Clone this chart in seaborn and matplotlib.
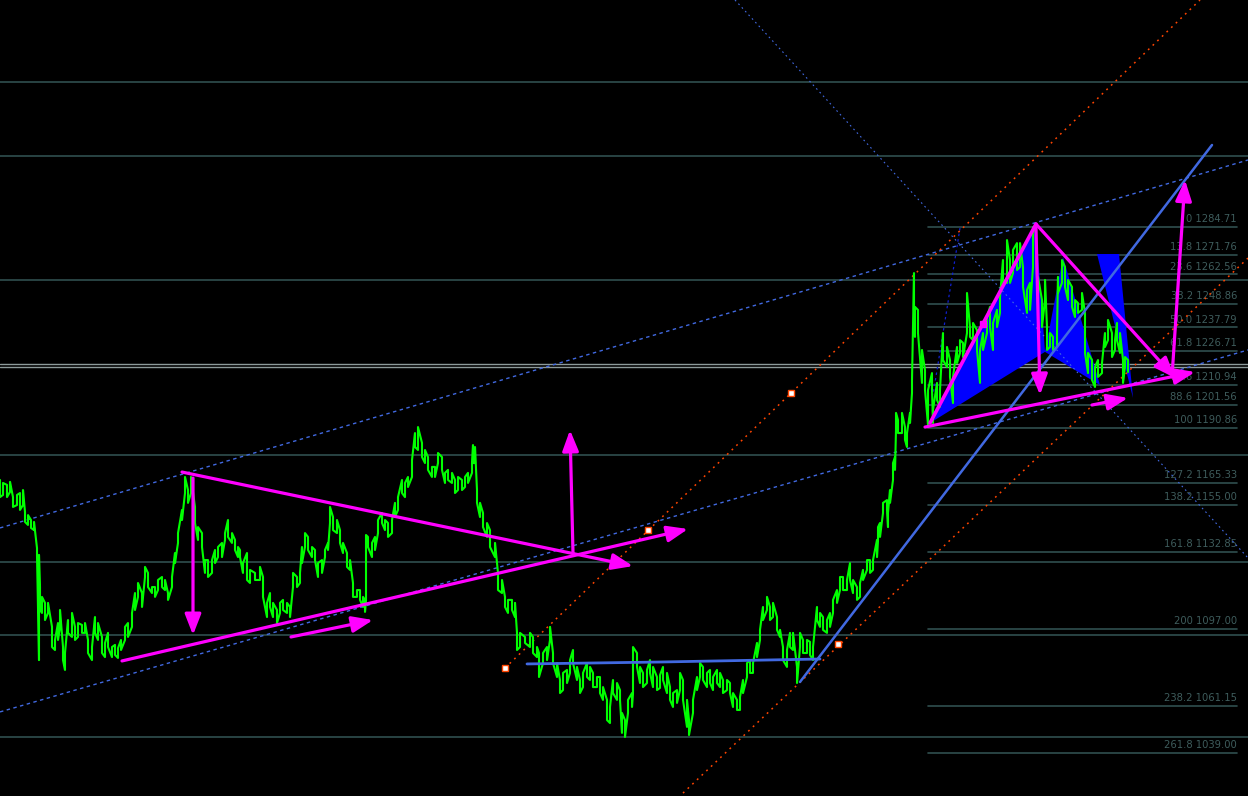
import matplotlib
matplotlib.use("Agg")
import matplotlib.pyplot as plt
import pandas as pd
import seaborn as sns

# price path (column highs / lows)
tick_time = [
    0, 3, 7, 10, 13, 17, 20, 23, 25, 28, 31, 34, 37, 39, 40, 42, 45, 48, 52, 55,
    58, 60, 63, 65, 68, 72, 75, 78, 82, 85, 88, 92, 95, 98, 102, 105, 108, 112, 115, 118,
    121, 125, 128, 132, 135, 138, 142, 145, 148, 152, 155, 158, 162, 165, 168, 172, 175, 178, 182, 185,
    188, 191, 195, 198, 202, 205, 208, 212, 215, 218, 222, 225, 228, 232, 235, 238,
    240, 243, 247, 250, 255, 260, 263, 267, 270, 273, 277, 280, 283, 287, 290, 293, 297, 300, 302, 305,
    308, 312, 315, 318, 322, 325, 328, 330, 333, 337, 340, 343, 347, 350, 353, 357, 360, 363, 365, 366,
    368, 372, 375, 378, 382, 385, 388, 392, 395, 398, 402, 405, 408, 412, 415, 418, 422, 425, 428, 432,
    435, 438, 442, 445, 448, 452, 455, 458, 462, 465, 468, 472, 473, 475, 477, 480, 483, 487, 490,
    495, 498, 502, 505, 508, 512, 515, 517, 520, 525, 530, 533, 537, 539, 543, 547, 550, 553, 557, 560,
    563, 567, 570, 573, 577, 580, 583, 587, 590, 593, 597, 600, 603, 607, 610, 613, 617, 620, 622, 625,
    628, 632, 633, 637, 640, 643, 647, 650, 653, 657, 660, 663, 667, 670, 673, 677, 680, 683, 687, 689,
    693, 697, 700, 703, 707, 710, 713, 717, 720, 723, 727, 730, 733, 737, 740, 743, 747, 750, 753, 757,
    760, 763, 767, 770, 773, 777, 780, 783, 787, 790, 793, 797, 800, 803, 807, 810, 813, 817, 820, 823,
    827, 830, 833, 837, 840, 843, 847,
    850, 853, 857, 860, 863, 867, 870, 873, 877, 878, 880, 883, 887, 888, 890, 893, 895, 896, 898, 902,
    905, 907, 910, 912, 914, 915, 918, 922, 925, 928, 932, 933, 937, 940, 943, 947, 950, 953, 957, 960,
    963, 967, 970, 973, 977, 980, 983, 987, 990, 993, 997, 1000, 1003, 1007, 1010, 1013, 1017, 1020, 1023, 1027,
    1030, 1033, 1036, 1038, 1042, 1045, 1047, 1050, 1053, 1057, 1058, 1062, 1065, 1068, 1072, 1075, 1078, 1082, 1085, 1088,
    1092, 1095, 1098, 1102, 1105, 1108, 1112, 1115, 1117, 1120, 1123, 1125, 1128,
]
tick_high = [
    1166.6, 1165.2, 1164.3, 1165.7, 1158.6, 1159.6, 1160.5, 1161.9, 1151.6, 1150.2, 1147.9, 1147.0, 1134.8, 1131.6, 1116.6, 1112.0, 1109.2, 1109.2, 1098.0, 1091.9,
    1099.8, 1105.9, 1088.6, 1085.8, 1101.2, 1104.5, 1098.0, 1099.8, 1098.9, 1099.8, 1091.9, 1088.6, 1102.6, 1099.8, 1093.3, 1090.5, 1095.2, 1088.6, 1089.6, 1088.1,
    1091.9, 1098.0, 1099.8, 1104.5, 1113.8, 1118.5, 1113.8, 1126.0, 1123.2, 1116.6, 1116.6, 1119.9, 1121.3, 1119.9, 1113.8, 1121.3, 1132.5, 1141.8, 1152.6, 1168.0,
    1161.9, 1168.0, 1154.0, 1144.6, 1141.8, 1129.2, 1129.2, 1129.2, 1133.9, 1135.3, 1137.2, 1141.8, 1147.9, 1141.8, 1138.6, 1135.3,
    1133.9, 1127.8, 1132.5, 1124.6, 1123.2, 1126.0, 1121.3, 1109.2, 1113.8, 1109.2, 1105.9, 1109.2, 1110.6, 1109.2, 1107.3, 1123.2, 1121.3, 1123.2, 1135.3, 1141.8,
    1140.0, 1135.3, 1133.9, 1127.8, 1129.2, 1133.9, 1137.2, 1154.0, 1149.3, 1147.9, 1143.2, 1137.2, 1132.5, 1129.2, 1118.5, 1115.2, 1115.2, 1112.0, 1110.6, 1140.9,
    1140.0, 1137.2, 1140.0, 1147.9, 1151.2, 1147.9, 1146.5, 1147.9, 1155.9, 1158.6, 1166.6, 1165.2, 1168.0, 1175.9, 1188.5, 1191.3, 1183.9, 1180.6, 1177.3, 1172.7,
    1172.7, 1179.2, 1177.3, 1169.9, 1171.3, 1169.9, 1166.6, 1168.0, 1166.6, 1168.0, 1169.9, 1174.5, 1182.9, 1182.0, 1161.9, 1155.9, 1151.2, 1146.5, 1143.2,
    1137.2, 1123.2, 1119.9, 1112.0, 1110.6, 1110.6, 1109.2, 1095.2, 1095.2, 1093.3, 1095.2, 1093.3, 1088.6, 1085.8, 1085.8, 1088.6, 1098.0, 1085.8, 1081.1, 1073.2,
    1076.5, 1077.9, 1082.5, 1087.2, 1079.3, 1073.2, 1076.5, 1081.1, 1079.3, 1076.5, 1074.6, 1074.6, 1069.9, 1063.9, 1060.6, 1073.2, 1071.8, 1068.5, 1057.8, 1054.5,
    1063.9, 1067.1, 1088.6, 1085.8, 1079.3, 1076.5, 1077.9, 1082.5, 1079.3, 1074.6, 1075.5, 1079.3, 1076.5, 1069.9, 1067.1, 1068.5, 1076.5, 1073.2, 1063.9, 1054.5,
    1063.9, 1074.6, 1081.1, 1079.3, 1076.5, 1077.9, 1074.6, 1077.9, 1076.5, 1073.2, 1073.2, 1071.8, 1067.1, 1063.9, 1065.3, 1073.2, 1081.1, 1082.5, 1081.1, 1090.5,
    1096.6, 1107.3, 1112.0, 1107.3, 1109.2, 1102.6, 1096.6, 1088.6, 1087.2, 1095.2, 1095.2, 1079.3, 1095.2, 1091.9, 1091.9, 1091.0, 1088.6, 1107.3, 1104.5, 1102.6,
    1101.2, 1104.5, 1110.6, 1115.2, 1121.3, 1121.3, 1119.9,
    1127.8, 1119.9, 1116.6, 1118.5, 1124.6, 1129.2, 1129.2, 1129.2, 1138.6, 1144.6, 1146.5, 1155.9, 1157.2, 1151.2, 1161.9, 1174.5, 1177.3, 1197.9, 1194.6, 1197.9,
    1191.3, 1188.5, 1197.9, 1213.3, 1263.2, 1247.4, 1246.0, 1227.3, 1217.9, 1208.6, 1216.5, 1199.3, 1211.9, 1208.6, 1235.2, 1228.7, 1222.6, 1214.7, 1228.7, 1231.9,
    1230.6, 1253.9, 1238.0, 1239.9, 1236.6, 1227.3, 1235.2, 1242.7, 1247.4, 1239.9, 1246.0, 1252.0, 1269.3, 1278.6, 1269.3, 1274.0, 1277.2, 1277.2, 1266.0, 1255.3,
    1258.6, 1284.7, 1281.9, 1261.4, 1250.6, 1260.0, 1238.0, 1235.2, 1233.4, 1235.2, 1261.4, 1269.3, 1266.0, 1260.0, 1256.7, 1250.6, 1249.2, 1253.9, 1244.6, 1225.9,
    1222.6, 1219.3, 1222.6, 1221.2, 1235.2, 1241.3, 1235.2, 1231.9, 1239.9, 1235.2, 1222.6, 1224.0, 1222.6,
]
tick_low = [
    1158.6, 1159.6, 1158.6, 1161.0, 1154.0, 1154.9, 1152.6, 1154.9, 1147.0, 1145.6, 1144.2, 1143.2, 1131.6, 1082.5, 1105.9, 1104.5, 1101.2, 1104.5, 1088.6, 1087.2,
    1091.9, 1098.0, 1082.5, 1077.9, 1095.2, 1093.3, 1091.9, 1093.3, 1095.2, 1095.2, 1085.8, 1082.5, 1095.2, 1091.9, 1085.8, 1083.9, 1088.6, 1083.9, 1084.9, 1083.5,
    1087.2, 1091.9, 1093.3, 1098.0, 1105.9, 1112.0, 1107.3, 1121.3, 1116.6, 1113.8, 1112.0, 1115.2, 1116.6, 1115.2, 1110.6, 1116.6, 1127.8, 1137.2, 1147.9, 1160.5,
    1155.9, 1160.5, 1146.5, 1138.6, 1135.3, 1123.2, 1121.3, 1123.2, 1127.8, 1130.6, 1130.6, 1138.6, 1140.0, 1137.2, 1133.9, 1130.6,
    1130.6, 1123.2, 1119.9, 1118.5, 1119.9, 1119.9, 1112.0, 1102.6, 1107.3, 1102.6, 1099.8, 1104.5, 1105.9, 1104.5, 1102.6, 1116.6, 1116.6, 1118.5, 1127.8, 1135.3,
    1133.9, 1130.6, 1129.2, 1121.3, 1123.2, 1130.6, 1133.9, 1146.5, 1143.2, 1141.8, 1137.2, 1132.5, 1126.0, 1124.6, 1112.0, 1112.0, 1110.6, 1107.3, 1105.0, 1110.6,
    1135.3, 1130.6, 1133.9, 1141.8, 1146.5, 1143.2, 1140.0, 1141.8, 1149.3, 1152.6, 1160.5, 1158.6, 1163.3, 1168.0, 1182.0, 1180.6, 1177.3, 1174.5, 1171.3, 1168.0,
    1168.0, 1174.5, 1171.3, 1165.2, 1166.6, 1165.2, 1160.5, 1161.9, 1161.9, 1163.3, 1165.2, 1169.9, 1174.5, 1174.5, 1155.9, 1149.3, 1144.6, 1140.0, 1135.3,
    1130.6, 1115.2, 1113.8, 1107.3, 1104.5, 1105.9, 1102.6, 1087.2, 1088.6, 1090.5, 1088.6, 1085.8, 1083.9, 1074.6, 1081.1, 1082.5, 1091.9, 1081.1, 1074.6, 1067.1,
    1068.5, 1071.8, 1076.5, 1081.1, 1073.2, 1067.1, 1069.9, 1074.6, 1073.2, 1069.9, 1069.9, 1067.1, 1063.9, 1054.5, 1053.1, 1067.1, 1063.9, 1063.9, 1048.5, 1046.6,
    1057.8, 1060.6, 1067.1, 1079.3, 1071.8, 1069.9, 1071.8, 1076.5, 1069.9, 1068.5, 1069.5, 1073.2, 1067.1, 1063.9, 1060.6, 1062.5, 1068.5, 1063.9, 1051.3, 1047.5,
    1057.8, 1068.5, 1074.6, 1073.2, 1069.9, 1071.8, 1068.5, 1071.8, 1069.9, 1067.1, 1068.5, 1067.1, 1060.6, 1059.2, 1059.2, 1067.1, 1074.6, 1076.5, 1076.5, 1083.9,
    1091.9, 1101.2, 1105.9, 1101.2, 1102.6, 1096.6, 1093.3, 1082.5, 1079.3, 1088.6, 1087.2, 1071.8, 1088.6, 1085.8, 1085.8, 1084.9, 1082.5, 1101.2, 1098.0, 1096.6,
    1095.2, 1098.0, 1104.5, 1109.2, 1115.2, 1115.2, 1115.2,
    1119.9, 1113.8, 1110.6, 1112.0, 1119.9, 1124.6, 1123.2, 1124.6, 1130.6, 1138.6, 1140.0, 1151.2, 1152.6, 1144.6, 1155.9, 1166.6, 1171.3, 1189.9, 1188.5, 1188.5,
    1185.3, 1182.0, 1193.2, 1207.2, 1246.0, 1233.4, 1235.2, 1211.9, 1208.6, 1192.3, 1208.6, 1193.2, 1203.9, 1200.7, 1222.6, 1219.3, 1214.7, 1202.5, 1221.2, 1225.9,
    1224.0, 1235.2, 1233.4, 1231.9, 1227.3, 1211.9, 1227.3, 1235.2, 1238.0, 1227.3, 1238.0, 1244.6, 1258.6, 1258.6, 1258.6, 1263.2, 1264.6, 1266.0, 1256.7, 1244.6,
    1246.0, 1266.0, 1270.7, 1250.6, 1238.0, 1250.6, 1227.3, 1228.7, 1227.3, 1228.7, 1253.9, 1258.6, 1256.7, 1250.6, 1247.4, 1242.7, 1244.6, 1246.0, 1225.9, 1216.5,
    1213.3, 1210.0, 1214.7, 1216.5, 1228.7, 1231.9, 1224.0, 1227.3, 1231.9, 1225.9, 1211.9, 1219.3, 1217.0,
]

# fibonacci levels
fib_pct = ["0", "13.8", "23.6", "38.2", "50.0", "61.8", "78.6", "88.6", "100",
           "127.2", "138.2", "161.8", "200", "238.2", "261.8"]
fib_price = [1284.71, 1271.76, 1262.56, 1248.86, 1237.79, 1226.71, 1210.94, 1201.56, 1190.86,
             1165.33, 1155.00, 1132.85, 1097.00, 1061.15, 1039.00]
fib_span = (928, 1237)

# full width horizontal levels
levels = [1352.4, 1317.9, 1260.0, 1178.3, 1128.3, 1094.2, 1046.6]
levels_light = [1220.7, 1219.3]

# trend lines (time, price)
channel_top = [(0, 1144.2), (1248, 1316.0)]
channel_bot = [(0, 1058.3), (1248, 1227.3)]
fan_down = [(735, 1390.7), (1248, 1130.2)]
red_low = [(683, 1020.4), (1248, 1270.2)]
red_up = [(505, 1078.8), (1200, 1390.7)]
blue_trend = [(800, 1072.3), (1212, 1323.0)]
blue_base = [(527, 1080.7), (660, 1081.6), (820, 1083.0)]
steep_dot = [(960, 1284.2), (933, 1206.3)]
pivots = [(505, 1078.8), (648, 1143.2), (791, 1207.2), (838, 1090.0)]

# harmonic pattern (X A B / B C D) and projection
pattern_xab = [(930, 1193.2), (1036, 1285.2), (1045, 1226.4)]
pattern_bcd = [(1045, 1226.4), (1063, 1270.7), (1100, 1210.9)]
pattern_proj = [(1097, 1272.1), (1119, 1272.1), (1133, 1204.9)]

# magenta drawings: (start, end, arrow?)
arrows = [
    ((182, 1170.3), (633, 1126.4), True),
    ((122, 1082.1), (688, 1143.7), True),
    ((193, 1167.5), (193, 1094.2), True),
    ((291, 1093.3), (373, 1101.2), True),
    ((573, 1132.5), (570, 1189.9), True),
    ((925, 1191.3), (1195, 1217.0), True),
    ((930, 1193.2), (1036, 1286.1), False),
    ((1036, 1286.1), (1175, 1214.2), True),
    ((1036, 1284.2), (1040, 1206.3), True),
    ((1172, 1214.7), (1185, 1306.7), True),
    ((1092, 1201.6), (1128, 1204.9), True),
]

MAG = "#ff00ff"
GRID = "#2f4f4f"
ROYAL = "#4169e1"
RED = "#ff4500"

sns.set_style("dark")
fig = plt.figure(figsize=(12.48, 7.96), dpi=100, facecolor="black")
ax = fig.add_axes([0, 0, 1, 1])
ax.set_facecolor("black")
ax.set_xlim(0, 1248)
ax.set_ylim(1019.04, 1390.7)
ax.axis("off")

for lv in levels:
    ax.axhline(lv, color=GRID, lw=1.2, zorder=1)
for lv in levels_light:
    ax.axhline(lv, color="#8d9a9a", lw=1.0, zorder=1)

for pct, p in zip(fib_pct, fib_price):
    ax.plot(fib_span, [p, p], color=GRID, lw=1.2, zorder=1)
    ax.annotate(f"{pct} {p:.2f}", (fib_span[1], p), xytext=(0, 2), textcoords="offset points",
                ha="right", va="bottom", fontsize=7.2, color="#3e5c5c", zorder=2)

for poly in (pattern_xab, pattern_bcd, pattern_proj):
    ax.fill([q[0] for q in poly], [q[1] for q in poly], color="#0000ff", lw=0, zorder=2)


def seg(pts, **kw):
    ax.plot([q[0] for q in pts], [q[1] for q in pts], **kw)


seg(channel_top, color=ROYAL, lw=1.0, ls=(0, (2.5, 2.5)), zorder=3)
seg(channel_bot, color=ROYAL, lw=1.0, ls=(0, (2.5, 2.5)), zorder=3)
seg(fan_down, color=ROYAL, lw=0.8, ls=(0, (1.5, 3)), zorder=3)
seg(steep_dot, color="#1020d0", lw=0.9, ls=(0, (2, 2.5)), zorder=3)
seg(red_low, color=RED, lw=1.1, ls=(0, (1.2, 3)), zorder=3)
seg(red_up, color=RED, lw=1.1, ls=(0, (1.2, 3)), zorder=3)

# zigzag through each column's high and low
path_t, path_p = [], []
for i, (t, hi, lo) in enumerate(zip(tick_time, tick_high, tick_low)):
    pair = (hi, lo) if i % 2 == 0 else (lo, hi)
    path_t += [t, t]
    path_p += list(pair)
df = pd.DataFrame({"t": path_t, "price": path_p})
sns.lineplot(data=df, x="t", y="price", estimator=None, sort=False, color="#00ff00",
             lw=1.5, ax=ax, zorder=4)

seg(blue_trend, color=ROYAL, lw=1.8, zorder=5)
seg(blue_base, color=ROYAL, lw=2.0, zorder=5)

ax.plot([q[0] for q in pivots], [q[1] for q in pivots], ls="none", marker="s", ms=4,
        mfc="white", mec=RED, mew=1.0, zorder=6)

for start, end, head in arrows:
    if head:
        ax.annotate("", xy=end, xytext=start,
                    arrowprops=dict(arrowstyle="-|>,head_length=0.9,head_width=0.35",
                                    color=MAG, lw=2.3, shrinkA=0, shrinkB=0,
                                    mutation_scale=14), zorder=7)
    else:
        seg([start, end], color=MAG, lw=2.6, zorder=7)
ax.plot([983], [1239.5], marker="s", ms=5, color=MAG, zorder=7)

ax.set_xlabel("")
ax.set_ylabel("")
fig.savefig("out.png", dpi=100, facecolor="black")
